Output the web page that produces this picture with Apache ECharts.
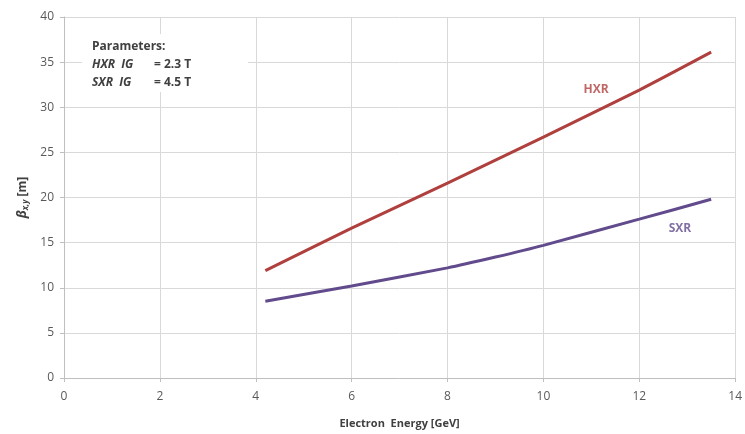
<!DOCTYPE html>
<html><head><meta charset="utf-8">
<script src="https://cdn.jsdelivr.net/npm/echarts@6/dist/echarts.min.js"></script>
<style>html,body{margin:0;padding:0;background:#fff}#c{width:745px;height:434px}</style>
</head><body><div id="c"></div>
<script>
const hxrX = [4.2, 6, 8, 10, 12, 13.5];
const hxrY = [11.9, 16.6, 21.6, 26.7, 31.9, 36.1];
const sxrX = [4.2, 6, 8, 9, 10, 12, 13.5];
const sxrY = [8.5, 10.2, 12.2, 13.4, 14.7, 17.6, 19.8];
const xTicks = [0, 2, 4, 6, 8, 10, 12, 14];
const yTicks = [0, 5, 10, 15, 20, 25, 30, 35, 40];
const hxrLabel = [11.1, 32.0];
const sxrLabel = [12.85, 16.6];

const chart = echarts.init(document.getElementById('c'));
const gridLine = {show: true, lineStyle: {color: '#d9d9d9', width: 1}};
const axisLab = {color: '#595959', fontSize: 12, fontFamily: 'Open Sans'};
const F = 'Open Sans';
chart.setOption({
  animation: false,
  grid: {left: 64, right: 7, top: 17, bottom: 55},
  xAxis: {
    type: 'value', min: 0, max: 14, interval: 2,
    name: 'Electron  Energy [GeV]', nameLocation: 'middle', nameGap: 40,
    nameTextStyle: {color: '#404040', fontSize: 11, fontWeight: 'bold', fontFamily: F},
    axisLine: {lineStyle: {color: '#bfbfbf'}},
    axisTick: {show: true, length: 4, lineStyle: {color: '#bfbfbf'}},
    axisLabel: Object.assign({margin: 13}, axisLab),
    splitLine: gridLine
  },
  yAxis: {
    type: 'value', min: 0, max: 40, interval: 5,
    name: '{b|β}{s|x,y}{n| [m]}', nameLocation: 'middle', nameGap: 33, nameRotate: 90,
    nameTextStyle: {
      color: '#404040', fontFamily: F, fontSize: 12,
      rich: {
        b: {fontStyle: 'italic', fontWeight: 'bold', fontSize: 13, color: '#404040', fontFamily: F},
        s: {fontStyle: 'italic', fontWeight: 'bold', fontSize: 8, color: '#404040', verticalAlign: 'bottom', padding: [6,0,0,0], fontFamily: F},
        n: {fontWeight: 'bold', fontSize: 12, color: '#404040', fontFamily: F}
      }
    },
    axisLine: {show: true, lineStyle: {color: '#bfbfbf'}},
    axisTick: {show: true, length: 4, lineStyle: {color: '#bfbfbf'}},
    axisLabel: Object.assign({margin: 10}, axisLab),
    splitLine: gridLine
  },
  graphic: [
    {type: 'rect', shape: {x: 82, y: 34, width: 166, height: 58}, style: {fill: '#ffffff'}, z: 5},
    {type: 'text', x: 92, y: 41, z: 6,
     style: {text: 'Parameters:', font: 'bold 12px "Open Sans"', fill: '#404040'}},
    {type: 'text', x: 92, y: 59, z: 6,
     style: {text: 'HXR  IG', font: 'italic bold 12px "Open Sans"', fill: '#404040'}},
    {type: 'text', x: 154, y: 59, z: 6,
     style: {text: '= 2.3 T', font: 'bold 12px "Open Sans"', fill: '#404040'}},
    {type: 'text', x: 92, y: 77, z: 6,
     style: {text: 'SXR  IG', font: 'italic bold 12px "Open Sans"', fill: '#404040'}},
    {type: 'text', x: 154, y: 77, z: 6,
     style: {text: '= 4.5 T', font: 'bold 12px "Open Sans"', fill: '#404040'}}
  ],
  series: [
    {type: 'line', data: hxrX.map((x,i)=>[x,hxrY[i]]), smooth: 0.2, showSymbol: false,
     lineStyle: {color: '#b0403d', width: 3}, itemStyle: {color: '#b0403d'}},
    {type: 'line', data: sxrX.map((x,i)=>[x,sxrY[i]]), smooth: 0.2, showSymbol: false,
     lineStyle: {color: '#614b8c', width: 3}, itemStyle: {color: '#614b8c'}},
    {type: 'scatter', data: [{value: hxrLabel, name: 'HXR'}], symbolSize: 0,
     label: {show: true, position: 'inside', formatter: '{b}', color: '#b0403d', fontWeight: 'bold', fontSize: 12, fontFamily: F}},
    {type: 'scatter', data: [{value: sxrLabel, name: 'SXR'}], symbolSize: 0,
     label: {show: true, position: 'inside', formatter: '{b}', color: '#614b8c', fontWeight: 'bold', fontSize: 12, fontFamily: F}}
  ]
});
</script></body></html>
